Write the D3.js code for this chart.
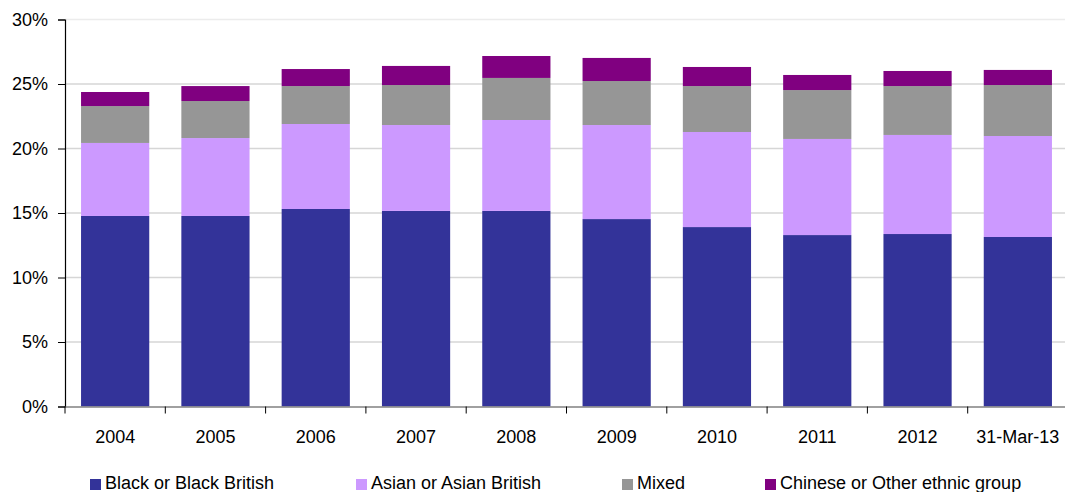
<!DOCTYPE html>
<html>
<head>
<meta charset="utf-8">
<script src="https://cdn.jsdelivr.net/npm/d3@7"></script>
<style>
  html, body { margin: 0; padding: 0; background: #fff; }
  svg { display: block; font-family: "Liberation Sans", Arial, sans-serif; }
</style>
</head>
<body>
<svg id="chart" width="1065" height="492"></svg>
<script>
const categories = ["2004","2005","2006","2007","2008","2009","2010","2011","2012","31-Mar-13"];
const seriesNames = ["Black or Black British","Asian or Asian British","Mixed","Chinese or Other ethnic group"];
const black   = [14.77, 14.77, 15.31, 15.16, 15.16, 14.53, 13.91, 13.29, 13.37, 13.14];
const asian   = [5.66, 6.04, 6.59, 6.66, 7.05, 7.29, 7.37, 7.45, 7.68, 7.83];
const mixed   = [2.86, 2.87, 2.94, 3.10, 3.26, 3.41, 3.56, 3.79, 3.79, 3.95];
const chinese = [1.09, 1.16, 1.32, 1.48, 1.70, 1.79, 1.48, 1.17, 1.17, 1.17];
const yTicks = [0, 5, 10, 15, 20, 25, 30];
const colors = ["#333399", "#CC99FF", "#969696", "#800080"];

(function () {
const svg = d3.select("#chart");
const mLeft = 65, mRight = 1068, mTop = 19.5, mBottom = 406.5;

const rows = categories.map((c, i) => ({cat: c, s0: black[i], s1: asian[i], s2: mixed[i], s3: chinese[i]}));
const stack = d3.stack().keys(["s0","s1","s2","s3"]);
const layers = stack(rows);

const y = d3.scaleLinear().domain([0, 30]).range([mBottom, mTop]);
const x = d3.scaleBand().domain(categories).range([mLeft, mRight]).padding(0);
const xb = d3.scaleBand().domain(categories).range([mLeft, mRight]).paddingInner(0.32).paddingOuter(0.16);

// gridlines
svg.append("g").selectAll("line").data(yTicks.filter(t => t > 0)).join("line")
  .attr("x1", mLeft).attr("x2", 1065)
  .attr("y1", d => y(d)).attr("y2", d => y(d))
  .attr("stroke", d => d === 30 ? "#ececec" : "#d6d6d6").attr("stroke-width", 1.5);

// bars
svg.append("g").selectAll("g").data(layers).join("g")
  .attr("fill", (d, i) => colors[i])
  .selectAll("rect").data(d => d).join("rect")
  .attr("x", d => xb(d.data.cat))
  .attr("width", xb.bandwidth())
  .attr("y", d => y(d[1]))
  .attr("height", d => y(d[0]) - y(d[1]));

// y axis
const yAxis = svg.append("g").attr("transform", `translate(${mLeft},0)`)
  .call(d3.axisLeft(y).tickValues(yTicks).tickFormat(d => d + "%").tickSize(7).tickPadding(10));
yAxis.select(".domain").attr("stroke", "#000").attr("stroke-width", 1.2);
yAxis.selectAll(".tick line").attr("stroke", "#000");
yAxis.selectAll("text").attr("font-size", 18).attr("fill", "#000")
  .attr("font-family", "Liberation Sans, Arial, sans-serif");

// x axis
const xAxis = svg.append("g").attr("transform", `translate(0,${mBottom})`)
  .call(d3.axisBottom(x).tickSize(0).tickPadding(24));
xAxis.select(".domain").attr("stroke", "#808080").attr("stroke-width", 1.5);
xAxis.selectAll("text").attr("font-size", 18).attr("fill", "#000")
  .attr("font-family", "Liberation Sans, Arial, sans-serif");
// boundary ticks
svg.append("g").selectAll("line").data(categories).join("line")
  .attr("x1", d => x(d)).attr("x2", d => x(d))
  .attr("y1", mBottom).attr("y2", mBottom + 7)
  .attr("stroke", "#000");

// legend
const legendX = [90, 356, 622, 765];
const lg = svg.append("g").selectAll("g").data(seriesNames).join("g")
  .attr("transform", (d, i) => `translate(${legendX[i]},479)`);
lg.append("rect").attr("width", 11).attr("height", 11).attr("fill", (d, i) => colors[i]);
lg.append("text").attr("x", 15).attr("y", 10).attr("font-size", 18).attr("fill", "#000").text(d => d);
})();
</script>
</body>
</html>
